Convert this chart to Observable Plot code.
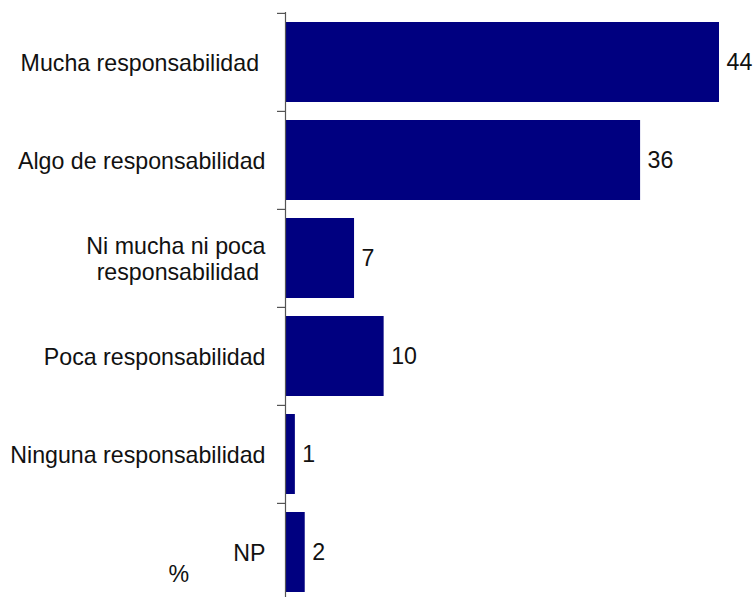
<!DOCTYPE html>
<html>
<head>
<meta charset="utf-8">
<script src="https://cdn.jsdelivr.net/npm/d3@7"></script>
<script src="https://cdn.jsdelivr.net/npm/@observablehq/plot@0.6"></script>
<style>
  html, body { margin: 0; padding: 0; background: #fff; overflow: hidden; }
  #chart svg text { white-space: pre; }
</style>
</head>
<body>
<div id="chart"></div>
<script>
const categories = [
  "Mucha responsabilidad ",
  "Algo de responsabilidad",
  "Ni mucha ni poca\nresponsabilidad ",
  "Poca responsabilidad",
  "Ninguna responsabilidad",
  "NP"
];
const values = [44, 36, 7, 10, 1, 2];
const unitLabel = "%";

const data = categories.map((c, i) => ({category: c, value: values[i]}));

const width = 756, height = 602;
const marginTop = 12, marginBottom = 0, marginLeft = 285, marginRight = 37;
const step = (height - marginTop - marginBottom) / categories.length;
const font = "'Liberation Sans', Arial, Helvetica, sans-serif";
const fs = 23.2;

const chart = Plot.plot({
  width, height, marginTop, marginBottom, marginLeft, marginRight,
  style: {fontFamily: font, background: "#fff", color: "#111"},
  x: {domain: [0, 44], axis: null},
  y: {domain: categories, padding: 0, axis: null},
  marks: [
    Plot.barX(data, {x: "value", y: "category", fill: "#000080", insetTop: 9, insetBottom: 9}),
    Plot.ruleX([0], {stroke: "#555", strokeWidth: 1.2}),
    Plot.axisY({tickSize: 8, tickFormat: () => "", label: null, dy: -step / 2, stroke: "#333", anchor: "left"}),
    Plot.text(data, {y: "category", text: "category", frameAnchor: "left", textAnchor: "end", dx: -20, fontSize: fs, lineHeight: 1.13, fill: "#111"}),
    Plot.text(data, {x: "value", y: "category", text: d => String(d.value), textAnchor: "start", dx: 7, fontSize: fs, fill: "#111"}),
    Plot.text([unitLabel], {frameAnchor: "bottom-left", textAnchor: "start", lineAnchor: "bottom", dx: -117, dy: -21, fontSize: fs, fill: "#111"})
  ]
});
document.getElementById("chart").appendChild(chart);
</script>
</body>
</html>
